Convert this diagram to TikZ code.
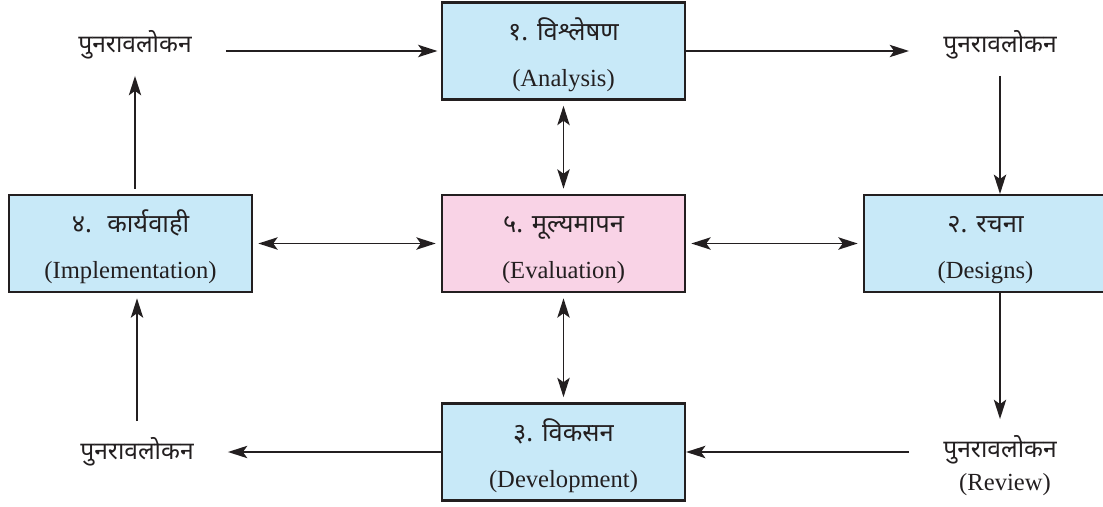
\documentclass[tikz,border=0pt]{standalone}
\usepackage{fontspec}
\setmainfont{Liberation Serif}
\newfontfamily\deva[Script=Devanagari]{Noto Sans}
\usetikzlibrary{arrows.meta}
\definecolor{xanh}{HTML}{C8E9F8}
\definecolor{hong}{HTML}{F9D3E6}
\definecolor{vien}{HTML}{231F20}
\begin{document}
\begin{tikzpicture}[x=0.02cm,y=-0.02cm,line width=1.1pt,color=vien,>={Stealth[length=11pt,width=7pt,inset=2.5pt]},
    hop/.style={draw=vien,line width=1.2pt,minimum width=4.86cm,minimum height=1.94cm,inner sep=0pt,align=center,font=\fontsize{14}{26}\selectfont},
    xem/.style={minimum width=3.6cm,minimum height=1.2cm,inner sep=0pt,font=\deva\fontsize{14}{18}\selectfont}]
    \useasboundingbox (0,0) rectangle (1103,507);
    \foreach \n/\x/\y/\c/\t/\e in {ana/563.5/51/xanh/{१. विश्लेषण}/Analysis,des/985.5/243.5/xanh/{२. रचना}/Designs,dev/563.5/452/xanh/{३. विकसन}/Development,imp/130.5/243.5/xanh/{४.~ कार्यवाही}/Implementation,eva/563.5/243.5/hong/{५. मूल्यमापन}/Evaluation}
    \node[hop,fill=\c] (\n) at (\x,\y) {{\deva\fontsize{14.5}{26}\selectfont \t}\rule{0pt}{17pt}\\(\e)};
    \foreach \n/\x/\y in {r1/135/45,r2/1000/45,r3/1000/450,r4/137/452}
    \node[xem] (\n) at (\x,\y) {पुनरावलोकन};
    \node[font=\fontsize{14}{16}\selectfont] (rv) at (1005,485) {(Review)};
    %vòng ngoài
    \draw[->,shorten >=2pt] (r1.east |- ana.west)--(ana.west);
    \draw[->] (ana.east)--(r2.west |- ana.east);
    \draw[->] (r2.south)--(r2.south |- des.north);
    \draw[->] (des.south -| r3.north)--(r3.north);
    \draw[->] (r3.west |- dev.east)--(dev.east);
    \draw[->] (dev.west)--(r4.east |- dev.west);
    \draw[->,shorten >=3pt] (r4.north)--(r4.north |- imp.south);
    \draw[->,shorten <=3pt] (imp.north -| r1.south)--(r1.south);
    %mũi tên hai chiều
    \foreach \a/\b in {ana.south/eva.north,eva.west/imp.east,eva.east/des.west,eva.south/dev.north}
    \draw[<->,shorten <=3pt,shorten >=3pt] (\a)--(\b);
\end{tikzpicture}
\end{document}
